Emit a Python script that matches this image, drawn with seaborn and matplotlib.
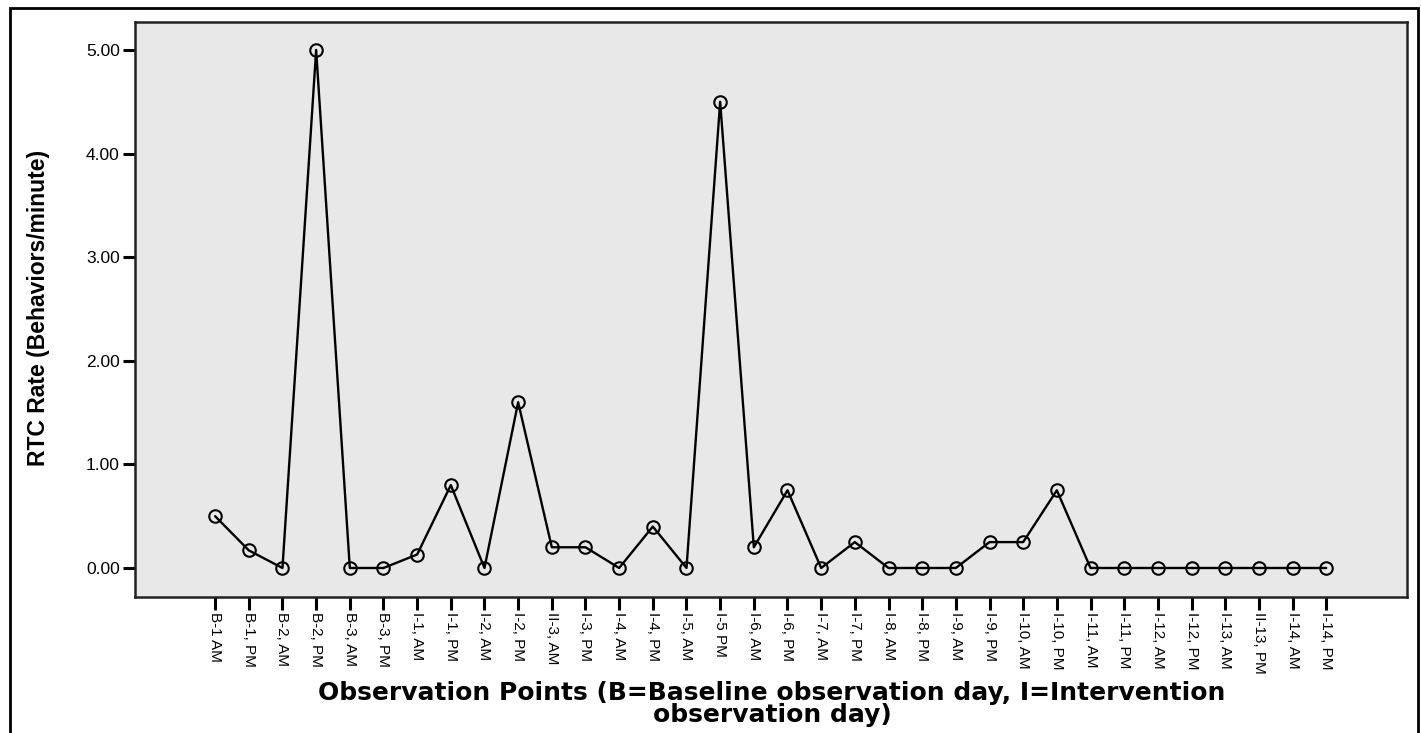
import matplotlib
matplotlib.use("Agg")
import matplotlib.pyplot as plt
import seaborn as sns
import pandas as pd
from matplotlib.patches import Rectangle

labels = ["B-1 AM", "B-1, PM", "B-2, AM", "B-2, PM", "B-3, AM", "B-3, PM",
          "I-1, AM", "I-1, PM", "I-2, AM", "I-2, PM", "II-3, AM", "I-3, PM",
          "I-4, AM", "I-4, PM", "I-5, AM", "I-5 PM", "I-6, AM", "I-6, PM",
          "I-7, AM", "I-7, PM", "I-8, AM", "I-8, PM", "I-9, AM", "I-9, PM",
          "I-10, AM", "I-10, PM", "I-11, AM", "I-11, PM", "I-12, AM", "I-12, PM",
          "I-13, AM", "II-13, PM", "I-14, AM", "I-14, PM"]
rates = [0.50, 0.17, 0.00, 5.00, 0.00, 0.00,
         0.13, 0.80, 0.00, 1.60, 0.20, 0.20,
         0.00, 0.40, 0.00, 4.50, 0.20, 0.75,
         0.00, 0.25, 0.00, 0.00, 0.00, 0.25,
         0.25, 0.75, 0.00, 0.00, 0.00, 0.00,
         0.00, 0.00, 0.00, 0.00]
yticks = [0.0, 1.0, 2.0, 3.0, 4.0, 5.0]

df = pd.DataFrame({"pos": range(len(labels)), "label": labels, "rate": rates})

sns.set_theme(style="white")
plt.rcParams['font.family'] = ['Liberation Sans', 'DejaVu Sans']
plt.rcParams['text.color'] = 'black'
plt.rcParams['axes.labelcolor'] = 'black'
plt.rcParams['xtick.color'] = 'black'
plt.rcParams['ytick.color'] = 'black'

fig = plt.figure(figsize=(14.21, 7.33), dpi=100)
ax = fig.add_axes([135/1421, 1-597/733, (1407-135)/1421, (597-22)/733])
ax.set_facecolor("#e8e8e8")

sns.lineplot(data=df, x="pos", y="rate", ax=ax, color="black", lw=1.7,
             marker="o", markersize=9, markerfacecolor="none",
             markeredgecolor="black", markeredgewidth=1.5)

ax.set_xlim(-2.38, 35.4)
ax.set_ylim(-0.28, 5.27)
ax.set_xticks(range(len(labels)))
ax.set_xticklabels(labels, rotation=-90, fontsize=11)
ax.set_yticks(yticks)
ax.set_yticklabels([f"{v:.2f}" for v in yticks], fontsize=12.5)
ax.tick_params(axis='both', direction='out', length=9, width=2.2, color='black',
               bottom=True, left=True, pad=2)
for s in ax.spines.values():
    s.set_color("#222222")
    s.set_linewidth(1.8)

ax.set_ylabel("RTC Rate (Behaviors/minute)", fontsize=16.5, fontweight='bold')
ax.yaxis.set_label_coords(50/1421, 1 - 308/733, transform=fig.transFigure)
ax.set_xlabel("Observation Points (B=Baseline observation day, I=Intervention\nobservation day)",
              fontsize=18, fontweight='bold', family=['DejaVu Sans'], linespacing=0.92)
ax.xaxis.set_label_coords(772/1421, 1 - 704/733, transform=fig.transFigure)
ax.xaxis.label.set_va('center')

fig.patches.append(Rectangle((10/1421, -0.01), (1418-10)/1421, 1-8/733+0.01,
                             transform=fig.transFigure, fill=False, edgecolor='black', lw=2))

fig.savefig("out.png", dpi=100, facecolor="white")
